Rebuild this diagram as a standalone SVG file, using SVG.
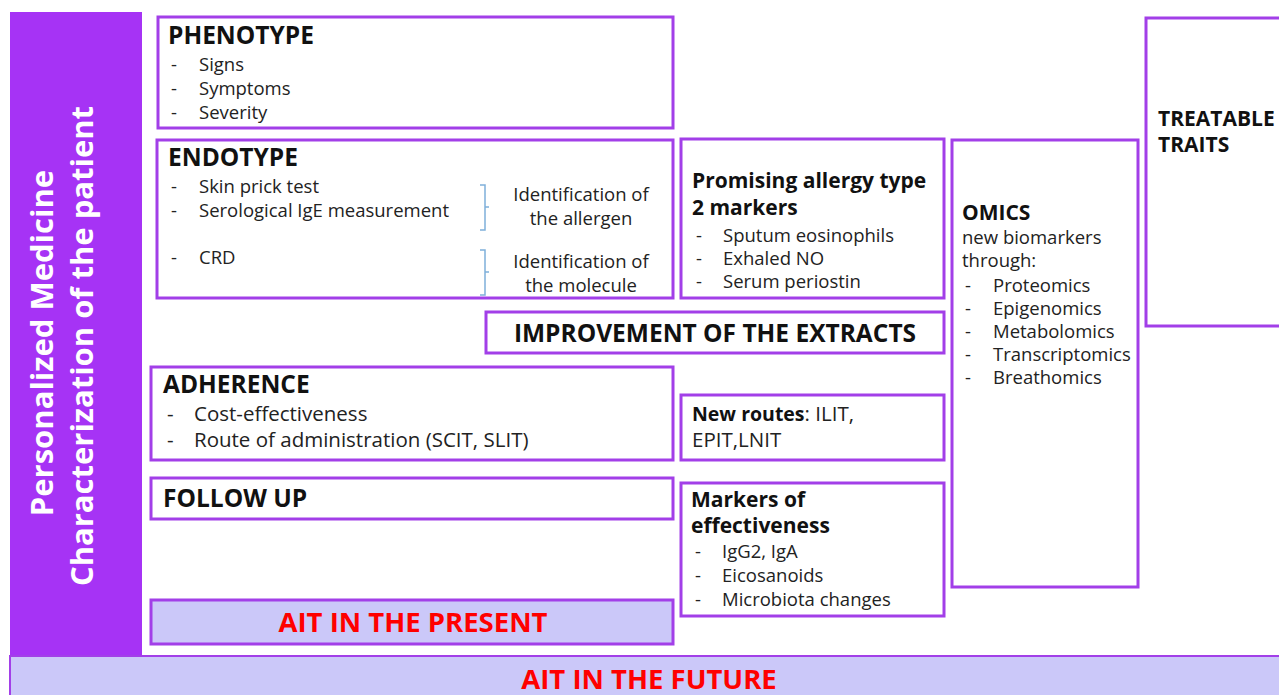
<svg xmlns="http://www.w3.org/2000/svg" width="1279" height="695" viewBox="0 0 1279 695">
<style>
text{font-family:"Open Sans","Noto Sans","DejaVu Sans",sans-serif;fill:#111;}
.box{fill:#fff;stroke:#a23fe8;stroke-width:3;}
.h{font-weight:bold;font-size:24.5px;}
.h2{font-weight:bold;font-size:21px;}
.t{font-size:18.5px;fill:#222;}
.ta{font-size:20.5px;fill:#222;}
.red{font-weight:bold;font-size:27.5px;fill:#f00;text-anchor:middle;}
.side{font-weight:bold;font-size:31px;fill:#fff;text-anchor:middle;}
.br{fill:none;stroke:#7fb0da;stroke-width:1.5;}
</style>
<rect width="1279" height="695" fill="#fff"/>
<g id="left-bar">
<rect x="10" y="12" width="132" height="644" fill="#a633f5"/>
<text class="side" transform="translate(53,343) rotate(-90)">Personalized Medicine</text>
<text class="side" transform="translate(93,346) rotate(-90)">Characterization of the patient</text>
</g>
<g id="future">
<rect x="10" y="656" width="1280" height="45" fill="#cbc8f9" stroke="#a23fe8" stroke-width="2"/>
<text class="red" x="649" y="689">AIT IN THE FUTURE</text>
</g>
<g id="phenotype">
<rect class="box" x="158" y="17" width="515" height="111"/>
<text class="h" x="168" y="44">PHENOTYPE</text>
<text class="t" x="171" y="71">-</text><text class="t" x="199" y="71">Signs</text>
<text class="t" x="171" y="95">-</text><text class="t" x="199" y="95">Symptoms</text>
<text class="t" x="171" y="119">-</text><text class="t" x="199" y="119">Severity</text>
</g>
<g id="endotype">
<rect class="box" x="157" y="140" width="516" height="158"/>
<text class="h" x="168" y="166">ENDOTYPE</text>
<text class="t" x="171" y="193">-</text><text class="t" x="199" y="193">Skin prick test</text>
<text class="t" x="171" y="217">-</text><text class="t" x="199" y="217">Serological IgE measurement</text>
<text class="t" x="171" y="264">-</text><text class="t" x="199" y="264">CRD</text>
<path class="br" d="M480,185 H485 V207 L489,207 L485,207 V230 H480"/>
<path class="br" d="M480,250 H485 V272 L489,272 L485,272 V295 H480"/>
<text class="t" x="581" y="201" text-anchor="middle">Identification of</text>
<text class="t" x="581" y="225" text-anchor="middle">the allergen</text>
<text class="t" x="581" y="268" text-anchor="middle">Identification of</text>
<text class="t" x="581" y="292" text-anchor="middle">the molecule</text>
</g>
<g id="promising">
<rect class="box" x="681" y="139" width="263" height="159"/>
<text class="h2" x="692" y="188">Promising allergy type</text>
<text class="h2" x="692" y="215">2 markers</text>
<text class="t" x="696" y="242">-</text><text class="t" x="723" y="242">Sputum eosinophils</text>
<text class="t" x="696" y="265">-</text><text class="t" x="723" y="265">Exhaled NO</text>
<text class="t" x="696" y="288">-</text><text class="t" x="723" y="288">Serum periostin</text>
</g>
<g id="omics">
<rect class="box" x="952" y="140" width="186" height="447"/>
<text class="h2" x="962" y="220">OMICS</text>
<text class="t" x="962" y="244">new biomarkers</text>
<text class="t" x="962" y="267">through:</text>
<text class="t" x="965" y="292">-</text><text class="t" x="993" y="292">Proteomics</text>
<text class="t" x="965" y="315">-</text><text class="t" x="993" y="315">Epigenomics</text>
<text class="t" x="965" y="338">-</text><text class="t" x="993" y="338">Metabolomics</text>
<text class="t" x="965" y="361">-</text><text class="t" x="993" y="361">Transcriptomics</text>
<text class="t" x="965" y="384">-</text><text class="t" x="993" y="384">Breathomics</text>
</g>
<g id="treatable">
<rect class="box" x="1146" y="18" width="145" height="308"/>
<text class="h2" x="1158" y="126">TREATABLE</text>
<text class="h2" x="1158" y="152">TRAITS</text>
</g>
<g id="improvement">
<rect class="box" x="486" y="312" width="458" height="41"/>
<text class="h" x="715" y="342" text-anchor="middle">IMPROVEMENT OF THE EXTRACTS</text>
</g>
<g id="adherence">
<rect class="box" x="151" y="367" width="522" height="93"/>
<text class="h" x="163" y="393">ADHERENCE</text>
<text class="ta" x="167" y="421">-</text><text class="ta" x="194" y="421">Cost-effectiveness</text>
<text class="ta" x="167" y="447">-</text><text class="ta" x="194" y="447">Route of administration (SCIT, SLIT)</text>
</g>
<g id="new-routes">
<rect class="box" x="681" y="395" width="263" height="65"/>
<text class="ta" x="692" y="421"><tspan font-weight="bold" font-size="19.5px" fill="#111">New routes</tspan>:  ILIT,</text>
<text class="ta" x="692" y="447">EPIT,LNIT</text>
</g>
<g id="follow-up">
<rect class="box" x="151" y="478" width="522" height="41"/>
<text class="h" x="163" y="507">FOLLOW UP</text>
</g>
<g id="markers">
<rect class="box" x="681" y="483" width="263" height="133"/>
<text class="h2" x="691" y="507" font-size="20px">Markers of</text>
<text class="h2" x="691" y="533" font-size="20px">effectiveness</text>
<text class="t" x="695" y="558">-</text><text class="t" x="722" y="558">IgG2, IgA</text>
<text class="t" x="695" y="582">-</text><text class="t" x="722" y="582">Eicosanoids</text>
<text class="t" x="695" y="606">-</text><text class="t" x="722" y="606">Microbiota changes</text>
</g>
<g id="present">
<rect x="151" y="600" width="522" height="44" fill="#cbc8f9" stroke="#a23fe8" stroke-width="3"/>
<text class="red" x="413" y="632">AIT IN THE PRESENT</text>
</g>
<g id="connectors"></g>
</svg>
